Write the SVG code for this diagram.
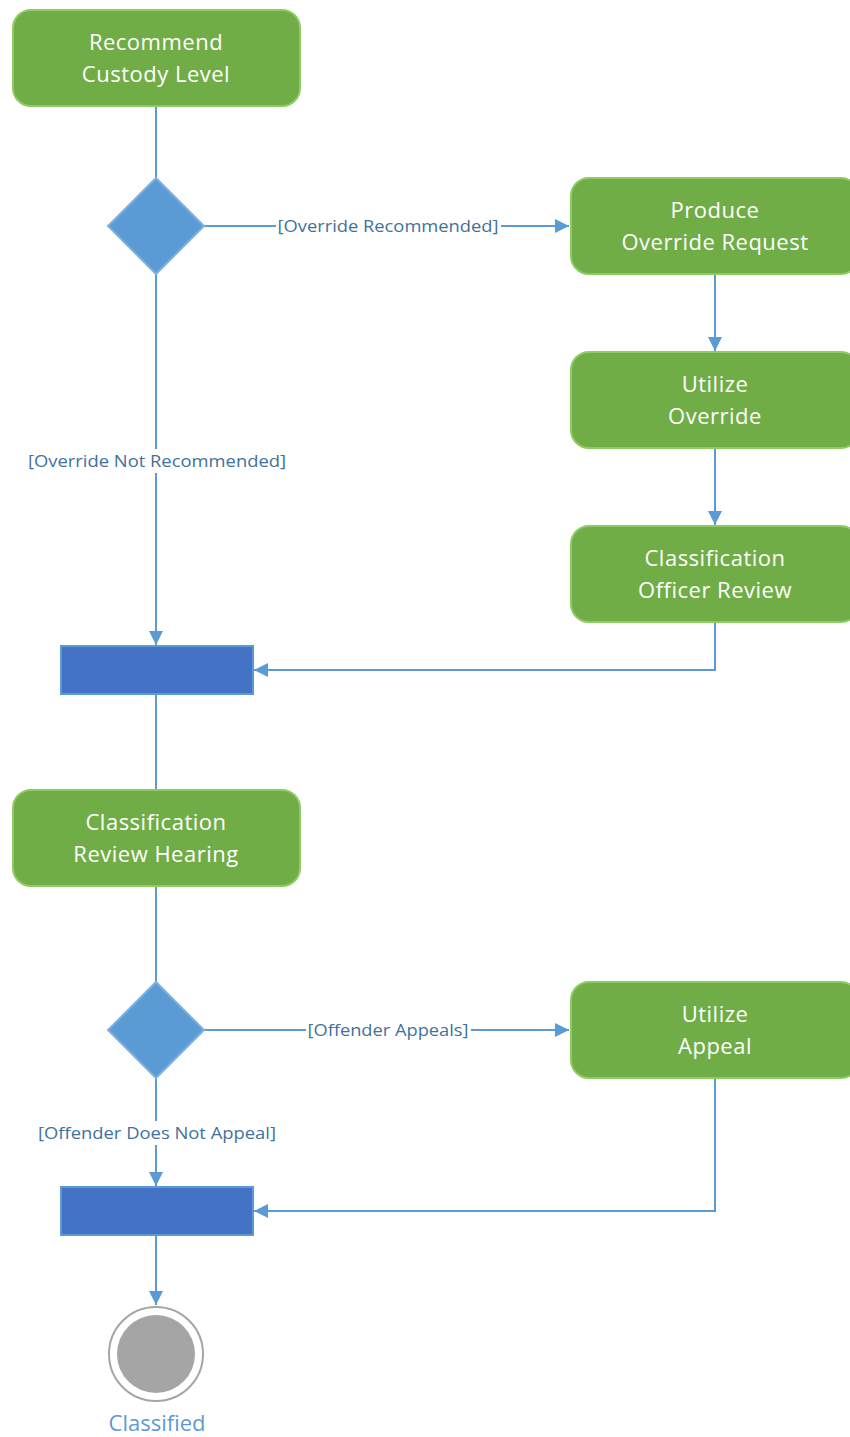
<svg xmlns="http://www.w3.org/2000/svg" width="850" height="1437" viewBox="0 0 850 1437">
<style>
.act{fill:#70AD47;stroke:#8FCB63;stroke-width:2}
.dec{fill:#5B9BD5;stroke:#7FB2E0;stroke-width:2}
.bar{fill:#4472C4;stroke:#5B9BD5;stroke-width:2}
.t{font-family:"Open Sans","Liberation Sans",sans-serif;font-size:22px;letter-spacing:0.5px;fill:#FFFFFF;text-anchor:middle}
.lbl{font-family:"Open Sans","Liberation Sans",sans-serif;font-size:16px;fill:#41719C;text-anchor:middle}
.e{fill:none;stroke:#5B9BD5;stroke-width:2}
.bg{fill:#FFFFFF}
</style>
<defs>
<marker id="arr" viewBox="0 0 14 14" refX="14" refY="7" markerWidth="14" markerHeight="14" markerUnits="userSpaceOnUse" orient="auto">
<path d="M0,0 L14,7 L0,14 z" fill="#5B9BD5"/>
</marker>
</defs>
<g id="connectors">
<path class="e" d="M156,106 V178"/>
<path class="e" d="M204,226 H569" marker-end="url(#arr)"/>
<path class="e" d="M156,274 V645" marker-end="url(#arr)"/>
<path class="e" d="M715,274 V351" marker-end="url(#arr)"/>
<path class="e" d="M715,448 V525" marker-end="url(#arr)"/>
<path class="e" d="M715,622 V670 H254" marker-end="url(#arr)"/>
<path class="e" d="M156,694 V790"/>
<path class="e" d="M156,886 V982"/>
<path class="e" d="M204,1030 H569" marker-end="url(#arr)"/>
<path class="e" d="M156,1078 V1186" marker-end="url(#arr)"/>
<path class="e" d="M715,1078 V1211 H254" marker-end="url(#arr)"/>
<path class="e" d="M156,1235 V1305" marker-end="url(#arr)"/>
<rect class="bg" x="276" y="214" width="225" height="24"/>
<text class="lbl" x="388" y="232" textLength="221" lengthAdjust="spacingAndGlyphs">[Override Recommended]</text>
<rect class="bg" x="26" y="449" width="262" height="24"/>
<text class="lbl" x="157" y="467" textLength="258" lengthAdjust="spacingAndGlyphs">[Override Not Recommended]</text>
<rect class="bg" x="306" y="1018" width="165" height="24"/>
<text class="lbl" x="388" y="1036" textLength="161" lengthAdjust="spacingAndGlyphs">[Offender Appeals]</text>
<rect class="bg" x="36" y="1121" width="242" height="24"/>
<text class="lbl" x="157" y="1139" textLength="238" lengthAdjust="spacingAndGlyphs">[Offender Does Not Appeal]</text>
</g>
<g id="n1">
<rect class="act" x="13" y="10" width="287" height="96" rx="18"/>
<text class="t" x="156" y="50">Recommend</text>
<text class="t" x="156" y="82">Custody Level</text>
</g>
<g id="d1">
<path class="dec" d="M156,178 L204,226 L156,274 L108,226 z"/>
</g>
<g id="n2">
<rect class="act" x="571" y="178" width="288" height="96" rx="18"/>
<text class="t" x="715" y="218">Produce</text>
<text class="t" x="715" y="250">Override Request</text>
</g>
<g id="n3">
<rect class="act" x="571" y="352" width="288" height="96" rx="18"/>
<text class="t" x="715" y="392">Utilize</text>
<text class="t" x="715" y="424">Override</text>
</g>
<g id="n4">
<rect class="act" x="571" y="526" width="288" height="96" rx="18"/>
<text class="t" x="715" y="566">Classification</text>
<text class="t" x="715" y="598">Officer Review</text>
</g>
<g id="bar1">
<rect class="bar" x="61" y="646" width="192" height="48"/>
</g>
<g id="n5">
<rect class="act" x="13" y="790" width="287" height="96" rx="18"/>
<text class="t" x="156" y="830">Classification</text>
<text class="t" x="156" y="862">Review Hearing</text>
</g>
<g id="d2">
<path class="dec" d="M156,982 L204,1030 L156,1078 L108,1030 z"/>
</g>
<g id="n6">
<rect class="act" x="571" y="982" width="288" height="96" rx="18"/>
<text class="t" x="715" y="1022">Utilize</text>
<text class="t" x="715" y="1054">Appeal</text>
</g>
<g id="bar2">
<rect class="bar" x="61" y="1187" width="192" height="48"/>
</g>
<g id="final">
<circle cx="156" cy="1354" r="47" fill="#FFFFFF" stroke="#A5A5A5" stroke-width="2"/>
<circle cx="156" cy="1354" r="39" fill="#A5A5A5"/>
<text x="157" y="1431" style="font-family:'Open Sans','Liberation Sans',sans-serif;font-size:22px;fill:#5B9BD5;text-anchor:middle">Classified</text>
</g>
</svg>
